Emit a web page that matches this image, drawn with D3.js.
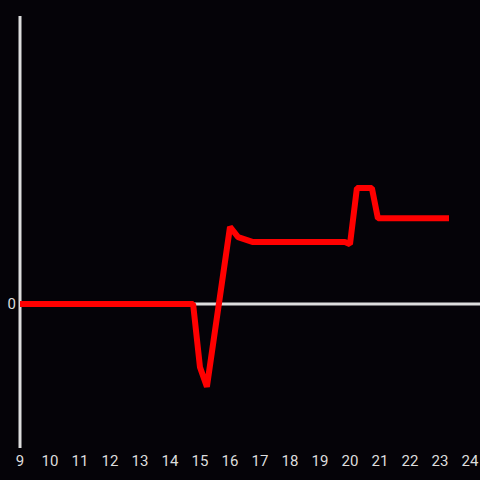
<!DOCTYPE html>
<html><head><meta charset="utf-8">
<script src="https://cdn.jsdelivr.net/npm/d3@7"></script>
<style>html,body{margin:0;padding:0;background:#050308;}svg{display:block;}</style>
</head><body>
<script>
const hours = [9, 14.77, 15.0, 15.23, 16.0, 16.27, 16.77, 19.83, 20.0, 20.23, 20.73, 20.93, 23.3];
const values = [0, 0, -0.44, -0.575, 0.535, 0.465, 0.43, 0.43, 0.415, 0.805, 0.805, 0.595, 0.595];
const xTicks = [9,10,11,12,13,14,15,16,17,18,19,20,21,22,23,24];
const yTicks = [0];

const W = 480, H = 480;
const svg = d3.select("body").append("svg").attr("width", W).attr("height", H);
svg.append("rect").attr("width", W).attr("height", H).attr("fill", "#050308");

const x = d3.scaleLinear().domain([9, 24]).range([20, 470]);
const y = d3.scaleLinear().domain([-1, 2]).range([448, 16]);

// y axis line
svg.append("line").attr("x1", x(9)).attr("x2", x(9)).attr("y1", y(2)).attr("y2", y(-1))
  .attr("stroke", "#dddddd").attr("stroke-width", 3);
// zero line
svg.append("line").attr("x1", x(9)).attr("x2", 480).attr("y1", y(0)).attr("y2", y(0))
  .attr("stroke", "#dddddd").attr("stroke-width", 3);

// x tick labels
svg.append("g").selectAll("text").data(xTicks).join("text")
  .attr("x", d => x(d)).attr("y", 466)
  .attr("text-anchor", "middle")
  .attr("fill", "#dddddd").attr("font-family", "Roboto, 'Noto Sans', sans-serif").attr("font-size", 15)
  .text(d => d);

// y tick labels
svg.append("g").selectAll("text").data(yTicks).join("text")
  .attr("x", 16).attr("y", d => y(d)).attr("dy", "0.35em")
  .attr("text-anchor", "end")
  .attr("fill", "#dddddd").attr("font-family", "Roboto, 'Noto Sans', sans-serif").attr("font-size", 15)
  .text(d => d);

const line = d3.line().x((d, i) => x(hours[i])).y(d => y(d));
svg.append("path").datum(values).attr("d", line)
  .attr("fill", "none").attr("stroke", "#ff0000").attr("stroke-width", 6)
  .attr("stroke-linejoin", "bevel");
</script>
</body></html>
